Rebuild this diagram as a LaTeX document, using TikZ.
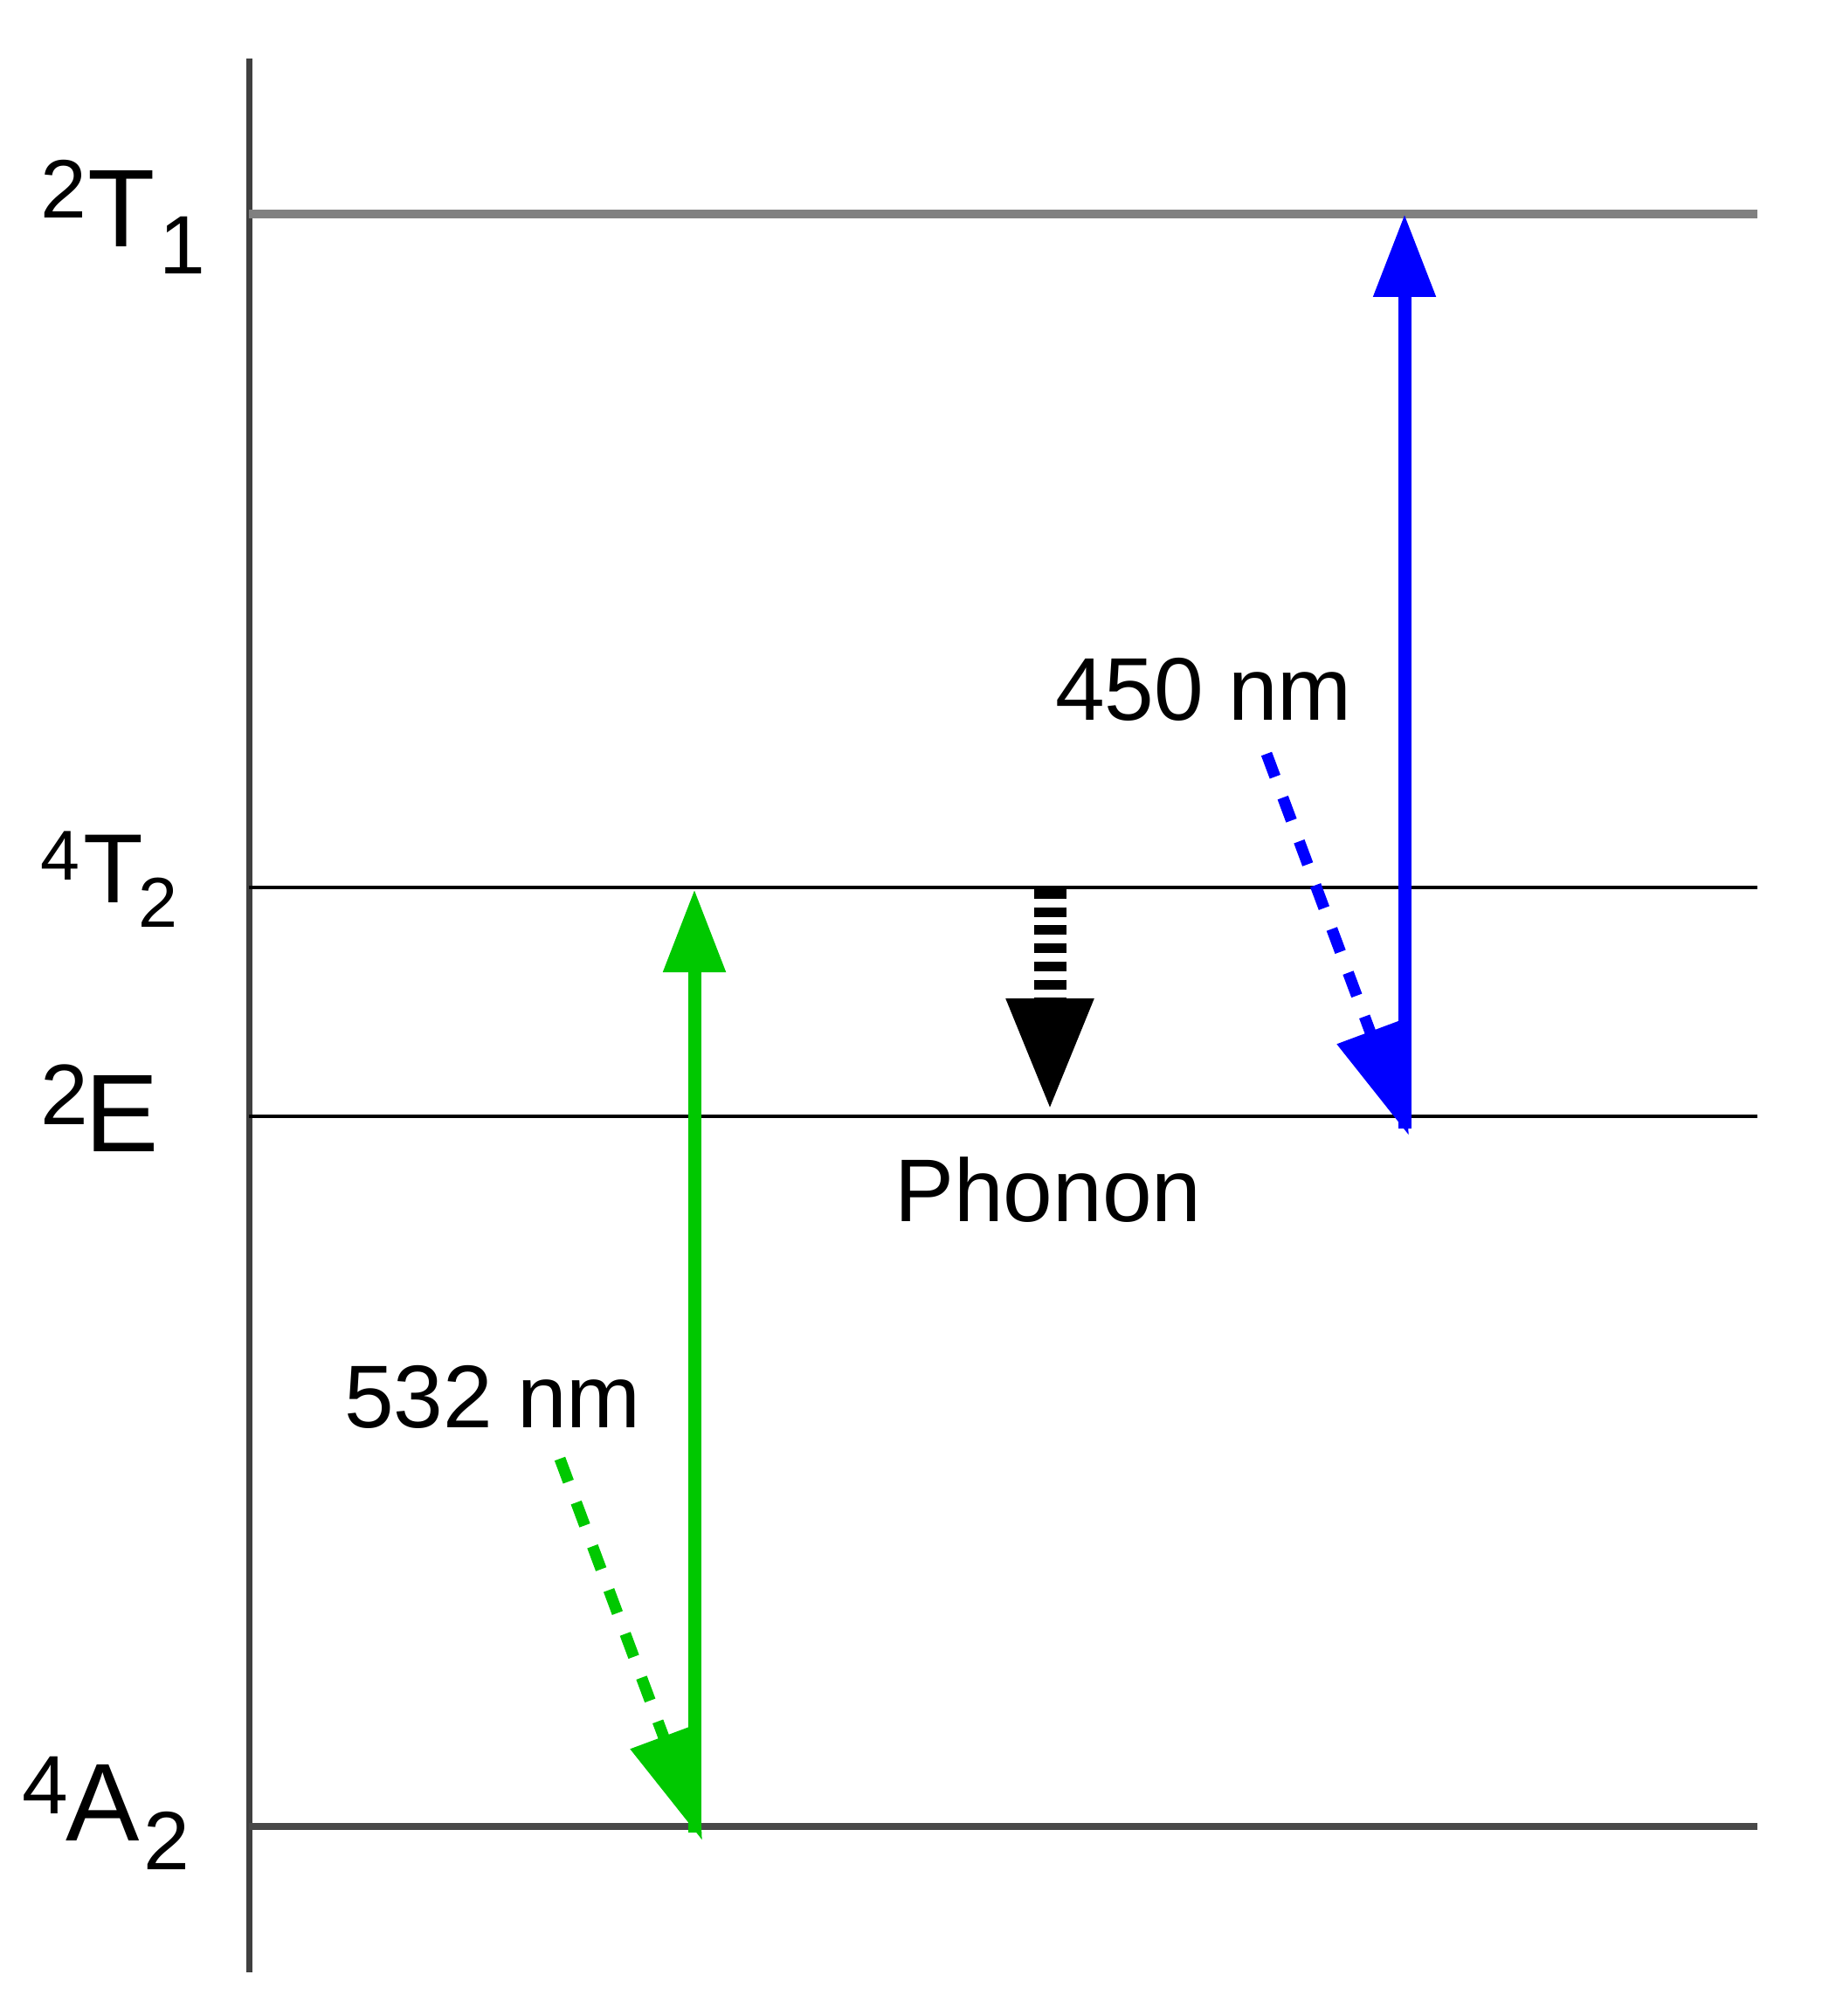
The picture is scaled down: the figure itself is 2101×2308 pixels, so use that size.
\documentclass[tikz,border=0pt]{standalone}
\usepackage{fontspec}
\setmainfont{Liberation Sans}
\usetikzlibrary{arrows.meta}
\definecolor{lvlgray}{RGB}{128,128,128}
\definecolor{axisgray}{RGB}{64,64,64}
\definecolor{lowgray}{RGB}{72,72,72}
\definecolor{lgreen}{RGB}{0,200,0}
\definecolor{lblue}{RGB}{0,0,255}
\newcommand\lblsize[1]{\fontsize{#1}{#1}\selectfont}
\begin{document}
\begin{tikzpicture}[x=0.1mm,y=-0.1mm,
  lab/.style={inner sep=0pt,outer sep=0pt,anchor=base west},
  axisline/.style={draw=axisgray,line width=0.7mm},
  toplevel/.style={draw=lvlgray,line width=1.0mm},
  midlevel/.style={draw=black,line width=0.45mm},
  lowlevel/.style={draw=lowgray,line width=0.8mm},
  solidarrow/.style={line width=1.5mm,-{Triangle[length=9.5mm,width=6.8mm]}},
  dasharrow/.style={line width=1.3mm,dash pattern=on 2.8mm off 2.55mm,-{Triangle[length=12.7mm,width=7.8mm]}},
  phononarrow/.style={draw=black,line width=3.7mm,dash pattern=on 1.1mm off 0.97mm,-{Triangle[length=13.2mm,width=9mm]}}
]
\fill[white] (0,0) rectangle (2101,2308);
\useasboundingbox (0,0) rectangle (2101,2308);

% axis and levels
\coordinate (axtop) at (285,67);
\coordinate (axbot) at (285,2258);
\draw[axisline] (axtop) -- (axbot);

\coordinate (t1l) at (285,245);  \coordinate (t1r) at (2012,245);
\coordinate (t2l) at (285,1016); \coordinate (t2r) at (2012,1016);
\coordinate (el)  at (285,1278); \coordinate (er)  at (2012,1278);
\coordinate (a2l) at (285,2091); \coordinate (a2r) at (2012,2091);
\draw[toplevel] (t1l) -- (t1r);
\draw[midlevel] (t2l) -- (t2r);
\draw[midlevel] (el) -- (er);
\draw[lowlevel] (a2l) -- (a2r);

% level labels
\node[lab] (t1sup) at (46,250) {\lblsize{27pt}2};
\node[lab] (t1main) at (100,283) {\lblsize{36pt}T};
\node[lab] (t1sub) at (182,314) {\lblsize{27pt}1};

\node[lab] (t2sup) at (46,1007) {\lblsize{23pt}4};
\node[lab] (t2main) at (95,1033) {\lblsize{32pt}T};
\node[lab] (t2sub) at (158,1061) {\lblsize{23pt}2};

\node[lab] (esup) at (46,1287) {\lblsize{28pt}2};
\node[lab] (emain) at (97,1318) {\lblsize{36pt}E};

\node[lab] (a2sup) at (25,2076) {\lblsize{27pt}4};
\node[lab] (a2main) at (75,2107) {\lblsize{36pt}A};
\node[lab] (a2sub) at (164,2140) {\lblsize{27pt}2};

% green transitions
\coordinate (gbot) at (795,2098);
\coordinate (gtop) at (795,1018);
\coordinate (gdstart) at (641,1670);
\coordinate (gdtip) at (804,2107);
\draw[solidarrow,lgreen] (gbot) -- (gtop);
\draw[dasharrow,lgreen] (gdstart) -- (gdtip);
\node[lab] (l532) at (394,1634) {\lblsize{29pt}532 nm};

% blue transitions
\coordinate (bbot) at (1608,1292);
\coordinate (btop) at (1608,245);
\coordinate (bdstart) at (1450,863);
\coordinate (bdtip) at (1613,1300);
\draw[solidarrow,lblue] (bbot) -- (btop);
\draw[dasharrow,lblue] (bdstart) -- (bdtip);
\node[lab] (l450) at (1208,824) {\lblsize{29pt}450 nm};

% phonon
\coordinate (phtop) at (1202,1018);
\coordinate (phtip) at (1202,1275);
\draw[phononarrow] (phtop) -- (phtip);
\node[lab] (lphonon) at (1024,1398) {\lblsize{29pt}Phonon};
\end{tikzpicture}
\end{document}
